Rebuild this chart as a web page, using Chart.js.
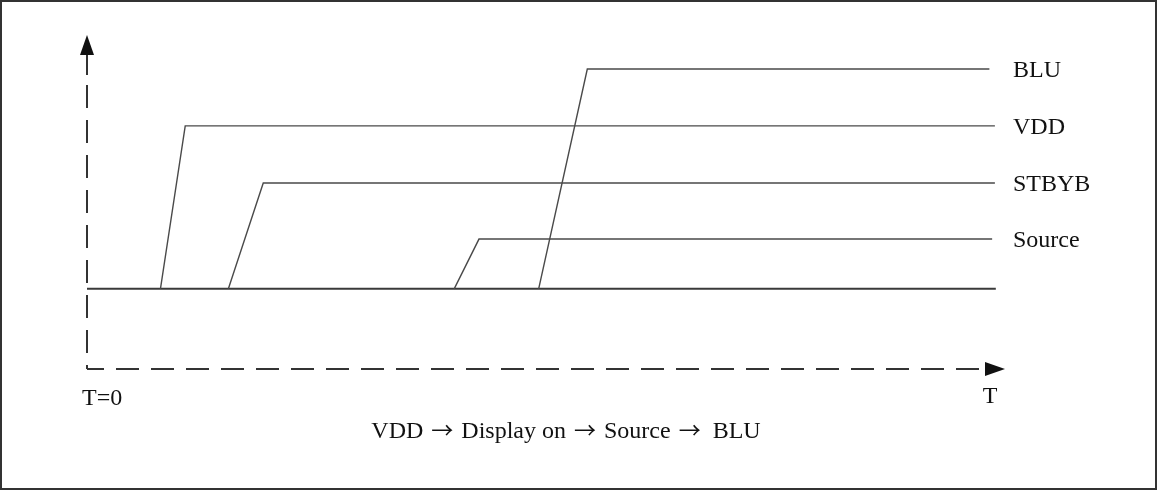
<!DOCTYPE html>
<html>
<head>
<meta charset="utf-8">
<title>Power on sequence</title>
<script src="https://cdn.jsdelivr.net/npm/chart.js@4/dist/chart.umd.min.js"></script>
<style>
  html, body { margin: 0; padding: 0; background: #fff; }
  canvas { display: block; }
</style>
</head>
<body>
<canvas id="seqChart" width="1157" height="490"></canvas>
<script>
// time runs 0..100 along the T axis, level 0..10 up the vertical axis
var signalNames = ['BLU', 'VDD', 'STBYB', 'Source'];
var bluTimes = [49.2, 54.5, 98.3];
var vddTimes = [8.0, 10.7, 98.9];
var stbybTimes = [15.4, 19.2, 98.9];
var sourceTimes = [40.0, 42.7, 98.6];
var lowLevel = 2.4;
var highLevels = [8.98, 7.28, 5.57, 3.89]; // BLU, VDD, STBYB, Source
var baseTimes = [0, 99.0];
var axisLabels = ['T=0', 'T'];
var captionSteps = ['VDD', 'Display on', 'Source', 'BLU'];

var textFont = '24px "Liberation Serif", "Times New Roman", serif';
var arrowFont = '22px "Noto Sans CJK JP", "DejaVu Sans", sans-serif';

// rise from the low line, then hold high till the end
function signalPoints(times, high) {
    return [
        { x: times[0], y: lowLevel },
        { x: times[1], y: high },
        { x: times[2], y: high }
    ];
}

var allTimes = [bluTimes, vddTimes, stbybTimes, sourceTimes];
var datasets = [];
for (var i = 0; i < signalNames.length; i++) {
    datasets.push({
        label: signalNames[i],
        data: signalPoints(allTimes[i], highLevels[i]),
        borderColor: '#4a4a4a',
        borderWidth: 1.4
    });
}
datasets.push({
    label: 'low',
    data: [{ x: baseTimes[0], y: lowLevel }, { x: baseTimes[1], y: lowLevel }],
    borderColor: '#3a3a3a',
    borderWidth: 2
});

// caption "VDD -> Display on -> Source -> BLU", arrows from a font with a longer arrow glyph
function drawCaption(ctx, cx, baseY) {
    var arrow = '\u2192';
    ctx.font = arrowFont;
    var arrowW = ctx.measureText(arrow).width;
    ctx.font = textFont;
    var gapBefore = 8, gapAfter = 8;
    var total = 0;
    for (var i = 0; i < captionSteps.length; i++) {
        total += ctx.measureText(captionSteps[i]).width;
        if (i < captionSteps.length - 1) total += gapBefore + arrowW + gapAfter;
    }
    total += 4; // wider gap before BLU
    var x = cx - total / 2;
    ctx.textAlign = 'left';
    for (var j = 0; j < captionSteps.length; j++) {
        ctx.font = textFont;
        ctx.fillText(captionSteps[j], x, baseY);
        x += ctx.measureText(captionSteps[j]).width;
        if (j < captionSteps.length - 1) {
            x += gapBefore;
            ctx.font = arrowFont;
            ctx.fillText(arrow, x, baseY);
            x += arrowW + gapAfter + (j == captionSteps.length - 2 ? 4 : 0);
        }
    }
}

// dashed axes with arrow heads, the frame and all the texts
var diagramDecor = {
    id: 'diagramDecor',
    beforeDraw: function(chart) {
        var ctx = chart.ctx;
        ctx.save();
        ctx.fillStyle = '#fff';
        ctx.fillRect(0, 0, chart.width, chart.height);
        ctx.strokeStyle = '#333';
        ctx.lineWidth = 2;
        ctx.strokeRect(1, 1, chart.width - 2, chart.height - 2);
        ctx.restore();
    },
    afterDraw: function(chart) {
        var ctx = chart.ctx;
        var xs = chart.scales.x, ys = chart.scales.y;
        var x0 = xs.getPixelForValue(0), y0 = ys.getPixelForValue(0);
        var xEnd = xs.getPixelForValue(100), yEnd = ys.getPixelForValue(10);

        ctx.save();
        ctx.strokeStyle = '#333';
        ctx.fillStyle = '#111';
        ctx.lineWidth = 2;
        ctx.setLineDash([23, 12]);

        // vertical axis, drawn upward from the corner
        ctx.lineDashOffset = 19;
        ctx.beginPath();
        ctx.moveTo(x0, y0);
        ctx.lineTo(x0, yEnd + 40);
        ctx.stroke();
        ctx.setLineDash([]);
        ctx.beginPath();
        ctx.moveTo(x0, yEnd + 40);
        ctx.lineTo(x0, yEnd + 18);
        ctx.stroke();

        // horizontal axis
        ctx.setLineDash([23, 12]);
        ctx.lineDashOffset = 6;
        ctx.beginPath();
        ctx.moveTo(x0, y0);
        ctx.lineTo(xEnd - 18, y0);
        ctx.stroke();
        ctx.setLineDash([]);

        // arrow heads
        ctx.beginPath();
        ctx.moveTo(x0, yEnd);
        ctx.lineTo(x0 - 7, yEnd + 20);
        ctx.lineTo(x0 + 7, yEnd + 20);
        ctx.closePath();
        ctx.fill();
        ctx.beginPath();
        ctx.moveTo(xEnd, y0);
        ctx.lineTo(xEnd - 20, y0 - 7);
        ctx.lineTo(xEnd - 20, y0 + 7);
        ctx.closePath();
        ctx.fill();

        // signal names at the right end of each line
        ctx.font = textFont;
        ctx.textBaseline = 'alphabetic';
        ctx.textAlign = 'left';
        for (var i = 0; i < signalNames.length; i++) {
            ctx.fillText(signalNames[i], xEnd + 8, ys.getPixelForValue(highLevels[i]) + 8);
        }

        // axis labels and caption
        ctx.fillText(axisLabels[0], x0 - 5, y0 + 36);
        ctx.textAlign = 'center';
        ctx.fillText(axisLabels[1], xEnd - 15, y0 + 34);
        drawCaption(ctx, 566, y0 + 69);
        ctx.restore();
    }
};

var myChart = new Chart(document.getElementById('seqChart'), {
    type: 'line',
    data: { datasets: datasets },
    options: {
        responsive: false,
        animation: false,
        devicePixelRatio: 1,
        layout: { padding: { left: 87, right: 152, top: 35, bottom: 121 } },
        elements: {
            point: { radius: 0 },
            line: { tension: 0, borderCapStyle: 'butt', fill: false }
        },
        datasets: { line: { clip: false } },
        scales: {
            x: { type: 'linear', min: 0, max: 100, display: false },
            y: { type: 'linear', min: 0, max: 10, display: false }
        },
        plugins: {
            legend: { display: false },
            tooltip: { enabled: false }
        }
    },
    plugins: [diagramDecor]
});
</script>
</body>
</html>
